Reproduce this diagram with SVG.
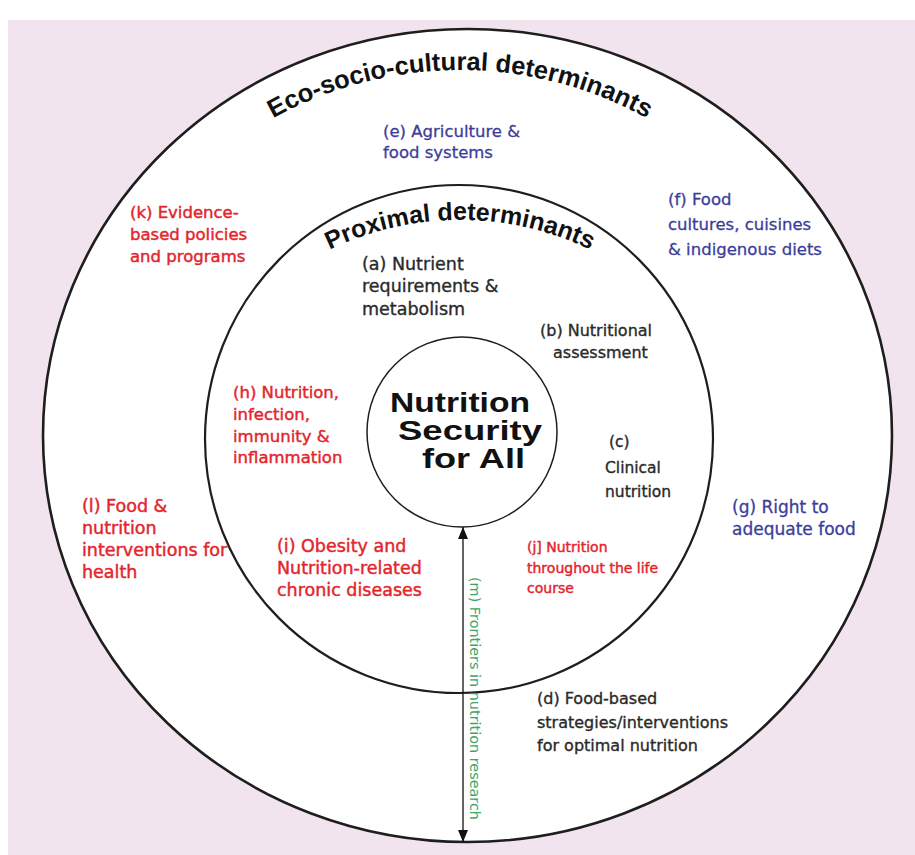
<svg xmlns="http://www.w3.org/2000/svg" width="915" height="855" viewBox="0 0 915 855">
<defs>
<style>
.lbl{font-family:"DejaVu Sans","Liberation Sans",sans-serif;stroke-width:0.45px;}
.red{fill:#e3262d;stroke:#e3262d;}
.blue{fill:#3d3d99;stroke:#3d3d99;stroke-width:0.3px;}
.blk{fill:#2a2a2a;stroke:#2a2a2a;stroke-width:0.35px;}
.arc{font-family:"Liberation Sans",Arial,sans-serif;font-weight:bold;fill:#111;}
.ring{fill:#fff;stroke:#1e1e1e;}
</style>
<marker id="ah" viewBox="0 0 12 10" refX="12" refY="5" markerWidth="12" markerHeight="10" markerUnits="userSpaceOnUse" orient="auto-start-reverse">
<path d="M0 0 L12 5 L0 10 Z" fill="#111"/>
</marker>
<path id="outerArc" d="M 210 162 A 386 386 0 0 1 710 162"/>
<path id="proxArc" d="M 240 316 A 300 300 0 0 1 680 316"/>
</defs>
<rect x="0" y="0" width="915" height="855" fill="#fff"/>
<rect x="8" y="20" width="907" height="835" fill="#f2e4ef"/>

<g id="outer-ring">
<ellipse class="ring" cx="467.5" cy="435.5" rx="424.5" ry="406.5" stroke-width="2.6"/>
<text class="arc" font-size="25.5"><textPath href="#outerArc" startOffset="50%" text-anchor="middle">Eco-socio-cultural determinants</textPath></text>
</g>

<g id="proximal-ring">
<circle class="ring" cx="459" cy="439" r="254" stroke-width="2.2"/>
<text class="arc" font-size="25"><textPath href="#proxArc" startOffset="50%" text-anchor="middle">Proximal determinants</textPath></text>
</g>

<g id="center">
<circle class="ring" cx="462" cy="432" r="95" stroke-width="1.5"/>
<text font-family="Liberation Sans,Arial,sans-serif" font-weight="bold" font-size="28" fill="#111">
<tspan x="390" y="412" textLength="140" lengthAdjust="spacingAndGlyphs">Nutrition</tspan>
<tspan x="398" y="440" textLength="144" lengthAdjust="spacingAndGlyphs">Security</tspan>
<tspan x="422" y="468" textLength="103" lengthAdjust="spacingAndGlyphs">for All</tspan>
</text>
</g>

<g id="connectors">
<line x1="463" y1="527" x2="463" y2="842" stroke="#111" stroke-width="1.3" marker-start="url(#ah)" marker-end="url(#ah)"/>
</g>

<g id="node-a"><text class="lbl blk" style="font-size:17.5px"><tspan x="362" y="270">(a) Nutrient</tspan><tspan x="362" y="292">requirements &amp;</tspan><tspan x="362" y="315">metabolism</tspan></text></g>
<g id="node-b"><text class="lbl blk" style="font-size:16px"><tspan x="540" y="336">(b) Nutritional</tspan><tspan x="553" y="358">assessment</tspan></text></g>
<g id="node-c"><text class="lbl blk" style="font-size:15.5px"><tspan x="609" y="447">(c)</tspan><tspan x="605" y="473">Clinical</tspan><tspan x="605" y="497">nutrition</tspan></text></g>
<g id="node-d"><text class="lbl blk" style="font-size:16px"><tspan x="537" y="704">(d) Food-based</tspan><tspan x="537" y="728">strategies/interventions</tspan><tspan x="537" y="751">for optimal nutrition</tspan></text></g>
<g id="node-e"><text class="lbl blue" style="font-size:16.5px"><tspan x="383" y="137">(e) Agriculture &amp;</tspan><tspan x="383" y="158">food systems</tspan></text></g>
<g id="node-f"><text class="lbl blue" style="font-size:16.5px"><tspan x="668" y="205">(f) Food</tspan><tspan x="668" y="230">cultures, cuisines</tspan><tspan x="668" y="255">&amp; indigenous diets</tspan></text></g>
<g id="node-g"><text class="lbl blue" style="font-size:17px"><tspan x="732" y="513">(g) Right to</tspan><tspan x="732" y="535">adequate food</tspan></text></g>
<g id="node-h"><text class="lbl red" style="font-size:16.5px"><tspan x="233" y="398">(h) Nutrition,</tspan><tspan x="233" y="420">infection,</tspan><tspan x="233" y="442">immunity &amp;</tspan><tspan x="233" y="463">inflammation</tspan></text></g>
<g id="node-i"><text class="lbl red" style="font-size:17.5px"><tspan x="277" y="552">(i) Obesity and</tspan><tspan x="277" y="574">Nutrition-related</tspan><tspan x="277" y="596">chronic diseases</tspan></text></g>
<g id="node-j"><text class="lbl red" style="font-size:14px"><tspan x="527" y="552">(j] Nutrition</tspan><tspan x="527" y="573">throughout the life</tspan><tspan x="527" y="593">course</tspan></text></g>
<g id="node-k"><text class="lbl red" style="font-size:16.5px"><tspan x="130" y="218">(k) Evidence-</tspan><tspan x="130" y="240">based policies</tspan><tspan x="130" y="262">and programs</tspan></text></g>
<g id="node-l"><text class="lbl red" style="font-size:17.5px"><tspan x="82" y="512">(l) Food &amp;</tspan><tspan x="82" y="534">nutrition</tspan><tspan x="82" y="556">interventions for</tspan><tspan x="82" y="578">health</tspan></text></g>
<g id="node-m"><text font-family="DejaVu Sans,Liberation Sans,sans-serif" font-size="14.4" fill="#3fa66b" transform="translate(470,577) rotate(90)">(m) Frontiers in nutrition research</text></g>
</svg>
